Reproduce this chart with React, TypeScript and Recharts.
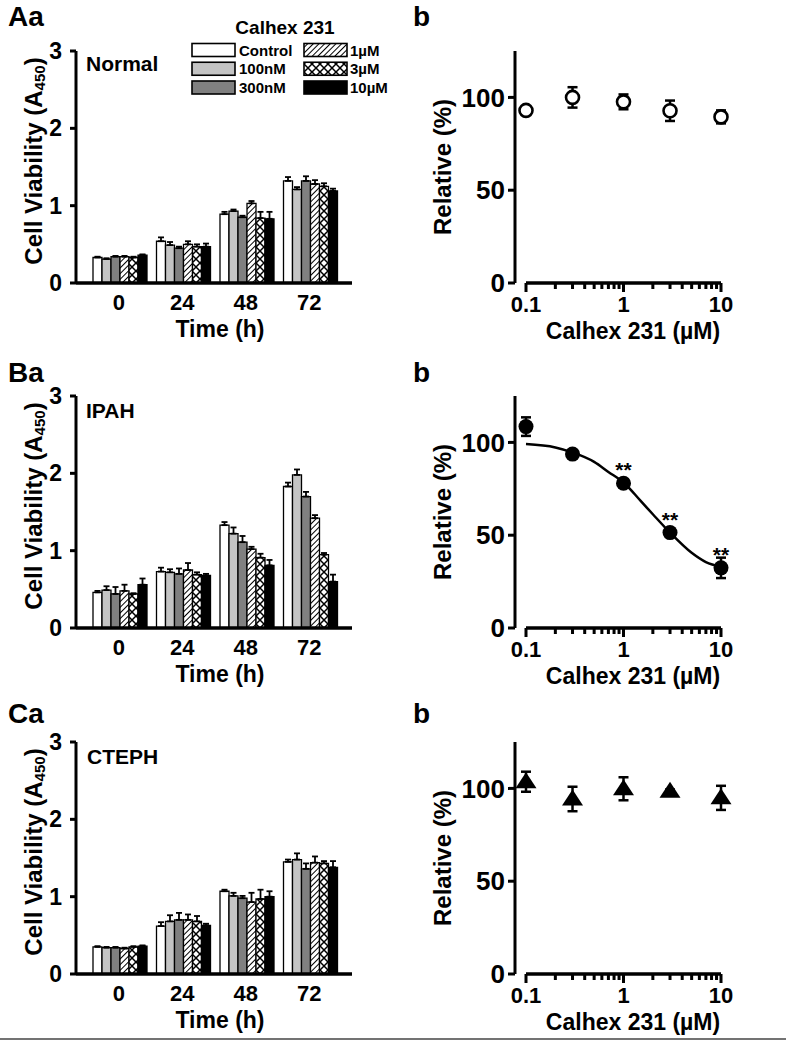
import React from "react";
import {
  BarChart,
  Bar,
  XAxis,
  YAxis,
  ErrorBar,
  ComposedChart,
  Scatter,
  Line,
  ReferenceLine
} from "recharts";

const FONT = '"Liberation Sans", Arial, Helvetica, sans-serif';

const times = ["0", "24", "48", "72"];
const doses = ["Control", "100nM", "300nM", "1µM", "3µM", "10µM"];
const doseFills = ["#ffffff", "#c4c4c4", "#808080", "url(#hatchDiag)", "url(#hatchCross)", "#000000"];

// cell viability (A450): one row per dose, one value per time point
const normalMeans = [
  [0.33, 0.54, 0.89, 1.32],
  [0.31, 0.49, 0.93, 1.21],
  [0.34, 0.45, 0.85, 1.32],
  [0.34, 0.5, 1.03, 1.28],
  [0.33, 0.47, 0.84, 1.25],
  [0.36, 0.47, 0.83, 1.19]
];
const normalErrs = [
  [0.01, 0.05, 0.03, 0.05],
  [0.01, 0.04, 0.02, 0.03],
  [0.01, 0.02, 0.02, 0.06],
  [0.01, 0.04, 0.03, 0.05],
  [0.01, 0.03, 0.08, 0.04],
  [0.01, 0.04, 0.09, 0.03]
];

const ipahMeans = [
  [0.46, 0.73, 1.33, 1.83],
  [0.49, 0.72, 1.22, 1.98],
  [0.44, 0.7, 1.11, 1.7],
  [0.48, 0.75, 1.02, 1.42],
  [0.44, 0.69, 0.91, 0.95],
  [0.56, 0.68, 0.81, 0.6]
];
const ipahErrs = [
  [0.02, 0.05, 0.04, 0.05],
  [0.05, 0.04, 0.08, 0.07],
  [0.09, 0.07, 0.08, 0.06],
  [0.08, 0.09, 0.03, 0.04],
  [0.01, 0.03, 0.05, 0.02],
  [0.08, 0.02, 0.07, 0.09]
];

const ctephMeans = [
  [0.35, 0.62, 1.07, 1.45],
  [0.34, 0.68, 1.01, 1.48],
  [0.34, 0.7, 0.98, 1.36],
  [0.33, 0.7, 0.93, 1.44],
  [0.35, 0.68, 0.97, 1.43],
  [0.36, 0.63, 1.0, 1.38]
];
const ctephErrs = [
  [0.01, 0.05, 0.02, 0.03],
  [0.01, 0.08, 0.04, 0.08],
  [0.01, 0.09, 0.03, 0.07],
  [0.01, 0.07, 0.12, 0.08],
  [0.01, 0.07, 0.12, 0.03],
  [0.01, 0.02, 0.07, 0.08]
];

// relative viability (%) vs Calhex 231 concentration (µM)
const conc = [0.1, 0.3, 1, 3, 10];
const normalRel = [93, 100, 97.6, 92.8, 89.5];
const normalRelErr = [2, 5.5, 4, 5.5, 3.5];
const ipahRel = [108.5, 93.7, 78, 51.4, 32.4];
const ipahRelErr = [5, 2, 2, 2, 5.5];
const ipahSig = ["", "", "**", "**", "**"];
const ctephRel = [103.6, 94.3, 99.8, 98.4, 94.9];
const ctephRelErr = [5.4, 6.6, 6.2, 1, 6.5];

// fitted curve for IPAH
const ipahFitX = [0.1, 0.2, 0.3, 0.5, 0.7, 1, 1.5, 2, 3, 5, 7, 10];
const ipahFitY = [99.1, 97.3, 94.6, 89.5, 84.1, 78.4, 68.5, 61.3, 51.4, 40.5, 35.5, 33];

const logTicks = [0.1, 0.2, 0.3, 0.4, 0.5, 0.6, 0.7, 0.8, 0.9, 1, 2, 3, 4, 5, 6, 7, 8, 9, 10];
const logLabels = [0.1, 1, 10];

function toRows(means: number[][], errs: number[][]) {
  return times.map((t, i) => {
    const row: any = { time: t };
    doses.forEach((_, s) => {
      row[`d${s}`] = means[s][i];
      row[`e${s}`] = [0, errs[s][i]];
    });
    return row;
  });
}

function toPoints(ys: number[], errs: number[], sig?: string[]) {
  return conc.map((x, i) => ({ x, y: ys[i], err: errs[i], sig: sig ? sig[i] : "" }));
}

// tick mark drawn here for every tick (longer for decades), label only on decades
const LogTick = (props: any) => {
  const { x, y, payload } = props;
  const major = logLabels.includes(payload.value);
  return (
    <g>
      <rect x={x - 1.5} y={y} width={3} height={major ? 9 : 6} fill="#000" />
      {major && (
        <text x={x} y={y + 21} textAnchor="middle" dominantBaseline="central" fontSize={22} fontWeight="bold" fill="#000">
          {payload.value}
        </text>
      )}
    </g>
  );
};

const timeTitle = (p: any) => {
  const vb = p.viewBox;
  return (
    <text x={vb.x + vb.width / 2 + 6} y={vb.y + 46} textAnchor="middle" dominantBaseline="central" fontSize={23} fontWeight="bold" fill="#000">
      Time (h)
    </text>
  );
};

const viabilityTitle = (p: any) => {
  const vb = p.viewBox;
  const cx = vb.x + 33;
  const cy = vb.y + vb.height / 2 - 6;
  return (
    <text x={cx} y={cy} transform={`rotate(-90, ${cx}, ${cy})`} textAnchor="middle" dominantBaseline="central" fontSize={24} fontWeight="bold" fill="#000">
      Cell Viability (A
      <tspan fontSize={15} dy={6}>450</tspan>
      <tspan dy={-6}>)</tspan>
    </text>
  );
};

const concTitle = (p: any) => {
  const vb = p.viewBox;
  return (
    <text x={vb.x + vb.width / 2 + 15} y={vb.y + 48} textAnchor="middle" dominantBaseline="central" fontSize={23} fontWeight="bold" fill="#000">
      Calhex 231 (µM)
    </text>
  );
};

const relTitle = (p: any) => {
  const vb = p.viewBox;
  const cx = vb.x + 42;
  const cy = vb.y + vb.height / 2;
  return (
    <text x={cx} y={cy} transform={`rotate(-90, ${cx}, ${cy})`} textAnchor="middle" dominantBaseline="central" fontSize={24} fontWeight="bold" fill="#000">
      Relative (%)
    </text>
  );
};

const openCircle = (p: any) => <circle cx={p.cx} cy={p.cy} r={6.5} fill="#fff" stroke="#000" strokeWidth={2.6} />;

const filledCircle = (p: any) => (
  <g>
    <circle cx={p.cx} cy={p.cy} r={7.5} fill="#000" />
    {p.payload && p.payload.sig ? (
      <text x={p.cx} y={p.cy - 6} textAnchor="middle" fontSize={21} fontWeight="bold" fill="#000">
        {p.payload.sig}
      </text>
    ) : null}
  </g>
);

const triangle = (p: any) => (
  <path d={`M${p.cx},${p.cy - 9.5} L${p.cx + 10.5},${p.cy + 6.5} L${p.cx - 10.5},${p.cy + 6.5} Z`} fill="#000" />
);

function ViabilityChart({ top, rows }: { top: number; rows: any[] }) {
  return (
    <div style={{ position: "absolute", left: 0, top: top - 20 }}>
      <BarChart width={370} height={316} data={rows} margin={{ top: 20, right: 18, left: 0, bottom: 0 }} barCategoryGap={6} barGap={0}>
        <XAxis
          dataKey="time"
          padding={{ left: 11, right: 11 }}
          axisLine={{ stroke: "#000", strokeWidth: 3.5 }}
          tickLine={false}
          tickSize={0}
          tickMargin={11}
          tick={{ fill: "#000", fontSize: 22, fontWeight: "bold" }}
          height={64}
          label={timeTitle}
        />
        <YAxis
          type="number"
          domain={[0, 3]}
          ticks={[0, 1, 2, 3]}
          width={76}
          axisLine={{ stroke: "#000", strokeWidth: 3 }}
          tickLine={{ stroke: "#000", strokeWidth: 3 }}
          tickSize={6}
          tickMargin={8}
          tick={{ fill: "#000", fontSize: 23, fontWeight: "bold" }}
          label={viabilityTitle}
        />
        {doses.map((d, s) => (
          <Bar key={d} dataKey={`d${s}`} fill={doseFills[s]} stroke="#000" strokeWidth={1.3} isAnimationActive={false}>
            <ErrorBar dataKey={`e${s}`} direction="y" width={3} stroke="#000" strokeWidth={1.8} />
          </Bar>
        ))}
      </BarChart>
    </div>
  );
}

function DoseChart({ top, points, shape, fit }: { top: number; points: any[]; shape: any; fit?: any[] }) {
  return (
    <div style={{ position: "absolute", left: 400, top: top - 20 }}>
      <ComposedChart width={345} height={316} margin={{ top: 20, right: 24, left: 0, bottom: 0 }}>
        <XAxis
          type="number"
          dataKey="x"
          scale="log"
          domain={[0.1, 10]}
          ticks={logTicks}
          interval={0}
          padding={{ left: 11, right: 0 }}
          axisLine={false}
          tickLine={false}
          tickSize={0}
          tickMargin={0}
          tick={LogTick}
          height={64}
          label={concTitle}
        />
        <YAxis
          type="number"
          dataKey="y"
          domain={[0, 125]}
          ticks={[0, 50, 100]}
          width={115}
          axisLine={{ stroke: "#000", strokeWidth: 3 }}
          tickLine={{ stroke: "#000", strokeWidth: 3 }}
          tickSize={7}
          tickMargin={3}
          tick={{ fill: "#000", fontSize: 26, fontWeight: "bold" }}
          label={relTitle}
        />
        <ReferenceLine segment={[{ x: 0.1, y: 0 }, { x: 10, y: 0 }]} stroke="#000" strokeWidth={3.5} ifOverflow="visible" />
        {fit && (
          <Line data={fit} dataKey="y" type="monotone" dot={false} stroke="#000" strokeWidth={2.5} isAnimationActive={false} />
        )}
        <Scatter data={points} shape={shape} isAnimationActive={false}>
          <ErrorBar dataKey="err" direction="y" width={5} stroke="#000" strokeWidth={2.5} />
        </Scatter>
      </ComposedChart>
    </div>
  );
}

export default function App() {
  const legendRows = doses.map((d, s) => ({ d, s, col: s < 3 ? 0 : 1, row: s % 3 }));
  const ipahFit = ipahFitX.map((x, i) => ({ x, y: ipahFitY[i] }));

  return (
    <div style={{ position: "absolute", left: 0, top: 0, width: 786, height: 1046, background: "#fff", fontFamily: FONT }}>
      <svg width={786} height={1046} style={{ position: "absolute", left: 0, top: 0, fontFamily: FONT }}>
        <defs>
          <pattern id="hatchDiag" patternUnits="userSpaceOnUse" width={4} height={4} patternTransform="rotate(45)">
            <rect width={4} height={4} fill="#fff" />
            <line x1={0} y1={0} x2={0} y2={4} stroke="#000" strokeWidth={2} />
          </pattern>
          <pattern id="hatchCross" patternUnits="userSpaceOnUse" width={8} height={8}>
            <rect width={8} height={8} fill="#fff" />
            <path d="M0,0 L8,8 M8,0 L0,8" stroke="#000" strokeWidth={1.5} />
          </pattern>
        </defs>

        <g fontSize={28} fontWeight="bold" fill="#000">
          <text x={8} y={26}>Aa</text>
          <text x={8} y={382}>Ba</text>
          <text x={8} y={723}>Ca</text>
          <text x={413} y={26}>b</text>
          <text x={413} y={382}>b</text>
          <text x={413} y={723}>b</text>
        </g>

        <g fontSize={21} fontWeight="bold" fill="#000">
          <text x={86} y={71}>Normal</text>
          <text x={86} y={418}>IPAH</text>
          <text x={87} y={764}>CTEPH</text>
        </g>

        <text x={285} y={34} textAnchor="middle" fontSize={19} fontWeight="bold" fill="#000">
          Calhex 231
        </text>
        {legendRows.map(({ d, s, col, row }) => {
          const bx = col ? 304 : 192;
          const by = 43.5 + row * 18.75;
          return (
            <g key={d}>
              <rect x={bx} y={by} width={43} height={13} fill={doseFills[s]} stroke="#000" strokeWidth={1.6} />
              <text x={col ? 350 : 239} y={by + 12} fontSize={15} fontWeight="bold" fill="#000">
                {d}
              </text>
            </g>
          );
        })}

        <line x1={0} y1={1039} x2={786} y2={1039} stroke="#444" strokeWidth={1.5} />
      </svg>

      <ViabilityChart top={51} rows={toRows(normalMeans, normalErrs)} />
      <ViabilityChart top={396} rows={toRows(ipahMeans, ipahErrs)} />
      <ViabilityChart top={742} rows={toRows(ctephMeans, ctephErrs)} />

      <DoseChart top={51} points={toPoints(normalRel, normalRelErr)} shape={openCircle} />
      <DoseChart top={396} points={toPoints(ipahRel, ipahRelErr, ipahSig)} shape={filledCircle} fit={ipahFit} />
      <DoseChart top={742} points={toPoints(ctephRel, ctephRelErr)} shape={triangle} />
    </div>
  );
}
